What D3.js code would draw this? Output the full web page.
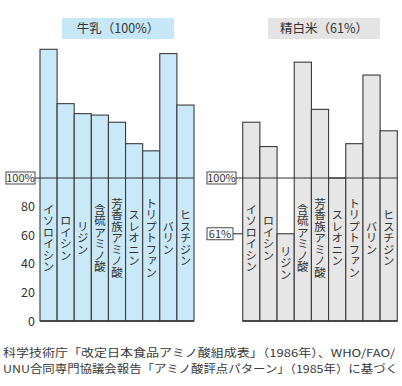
<!DOCTYPE html>
<html>
<head>
<meta charset="utf-8">
<script src="https://cdn.jsdelivr.net/npm/d3@7"></script>
<style>
  html, body { margin: 0; padding: 0; background: #fff; }
  svg { display: block; font-family: "Noto Sans CJK JP", "Noto Sans", sans-serif; }
</style>
</head>
<body>
<svg id="chart" width="402" height="386"></svg>
<script>
// Amino acid names (essential amino acids)
const aminoAcids = ["イソロイシン", "ロイシン", "リジン", "含硫アミノ酸", "芳香族アミノ酸",
                    "スレオニン", "トリプトファン", "バリン", "ヒスチジン"];

// Score of each amino acid relative to the scoring pattern (%)
const milkValues = [190, 152, 145, 144, 139, 124, 119, 187, 151];
const riceValues = [139, 122, 61, 181, 148, 100, 124, 172, 133];

const milkTitle = "牛乳（100%）";
const riceTitle = "精白米（61%）";
const milkScore = 100;
const riceScore = 61;

const yTicks = [0, 20, 40, 60, 80];
const footnote = [
  "科学技術庁「改定日本食品アミノ酸組成表」（1986年）、WHO/FAO/",
  "UNU合同専門協議会報告「アミノ酸評点パターン」（1985年）に基づく"
];

const svg = d3.select("#chart");
const ink = "#333";

const y = d3.scaleLinear().domain([0, 100]).range([321, 178]);

function panel(opts) {
  const g = svg.append("g");
  const x = d3.scaleBand().domain(aminoAcids).range(opts.range).paddingInner(0);

  // title box
  const tw = 112;
  g.append("rect")
    .attr("x", opts.titleX - tw / 2).attr("y", 18)
    .attr("width", tw).attr("height", 21)
    .attr("fill", opts.titleFill);
  g.append("text")
    .attr("x", opts.titleX).attr("y", 33)
    .attr("text-anchor", "middle")
    .attr("font-size", 12.5)
    .attr("fill", ink)
    .text(opts.title);

  // bars
  g.selectAll("rect.bar").data(opts.values).join("rect")
    .attr("class", "bar")
    .attr("x", (d, i) => x(aminoAcids[i]))
    .attr("y", d => y(d))
    .attr("width", x.bandwidth())
    .attr("height", d => y(0) - y(d))
    .attr("fill", opts.fill)
    .attr("stroke", "#3a3a3a")
    .attr("stroke-width", 1.1);

  // baseline
  g.append("line")
    .attr("x1", opts.range[0]).attr("x2", opts.range[1])
    .attr("y1", y(0)).attr("y2", y(0))
    .attr("stroke", ink).attr("stroke-width", 1.3);

  // 100% reference box and line
  const boxX = opts.boxX, boxW = 29, boxH = 12;
  g.append("line")
    .attr("x1", boxX + boxW).attr("x2", opts.range[1])
    .attr("y1", y(100)).attr("y2", y(100))
    .attr("stroke", ink).attr("stroke-width", 1.1);
  g.append("rect")
    .attr("x", boxX).attr("y", y(100) - boxH / 2)
    .attr("width", boxW).attr("height", boxH)
    .attr("fill", "#fff").attr("stroke", ink).attr("stroke-width", 0.9);
  g.append("text")
    .attr("x", boxX + boxW / 2).attr("y", y(100) + 4)
    .attr("text-anchor", "middle").attr("font-size", 11)
    .attr("fill", ink).text("100%");

  // vertical amino acid labels
  const fs = 11.5;
  g.selectAll("text.lab").data(aminoAcids).join("text")
    .attr("class", "lab")
    .attr("font-size", fs)
    .attr("fill", ink)
    .style("writing-mode", "vertical-rl")
    .attr("text-anchor", "middle")
    .attr("dominant-baseline", "central")
    .attr("x", d => x(d) + x.bandwidth() / 2)
    .attr("y", (d, i) => {
      const half = d.length * fs / 2;
      let c = y(58);
      const top = y(opts.values[i]) + 12;
      if (c - half < top) c = top + half;
      return c;
    })
    .text(d => d);

  return { g, x };
}

// Milk panel
const left = panel({
  range: [40, 194], values: milkValues, fill: "#c9e9f9",
  title: milkTitle, titleX: 118, titleFill: "#c6e7f7", boxX: 6
});

const axis = d3.axisLeft(y).tickValues(yTicks).tickSize(0).tickPadding(0);
const ax = svg.append("g").attr("transform", "translate(35,0)").call(axis);
ax.select(".domain").remove();
ax.selectAll("text")
  .attr("font-size", 12.5)
  .attr("fill", ink)
  .attr("font-family", "Noto Sans CJK JP, sans-serif");

// Rice panel
const right = panel({
  range: [242.7, 397.3], values: riceValues, fill: "#e6e6e6",
  title: riceTitle, titleX: 324, titleFill: "#e4e4e4", boxX: 207
});

// score marker for the limiting amino acid
right.g.append("line")
  .attr("x1", 233).attr("x2", 242.7)
  .attr("y1", y(riceScore)).attr("y2", y(riceScore))
  .attr("stroke", ink).attr("stroke-width", 1.1);
right.g.append("rect")
  .attr("x", 207).attr("y", y(riceScore) - 6)
  .attr("width", 26).attr("height", 12)
  .attr("fill", "#fff").attr("stroke", ink).attr("stroke-width", 0.9);
right.g.append("text")
  .attr("x", 220).attr("y", y(riceScore) + 4)
  .attr("text-anchor", "middle").attr("font-size", 11)
  .attr("fill", ink).text(riceScore + "%");

// source note
svg.selectAll("text.note").data(footnote).join("text")
  .attr("class", "note")
  .attr("x", 3)
  .attr("y", (d, i) => 357 + i * 16)
  .attr("font-size", 11)
  .attr("fill", "#3a3a3a")
  .attr("textLength", (d, i) => i === 0 ? 392 : 395)
  .attr("lengthAdjust", "spacingAndGlyphs")
  .text(d => d);
</script>
</body>
</html>
